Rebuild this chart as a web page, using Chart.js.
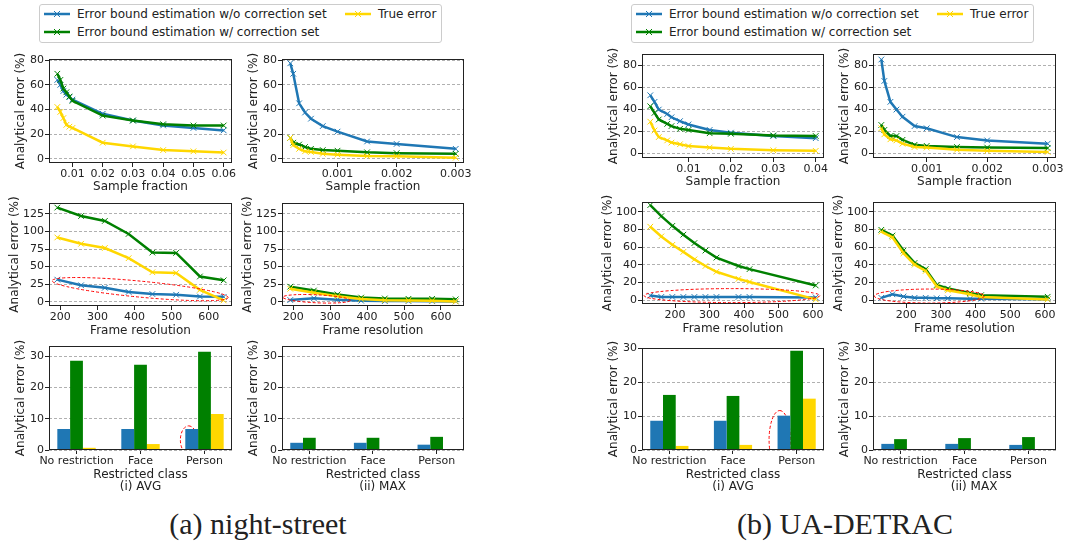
<!DOCTYPE html>
<html>
<head>
<meta charset="utf-8">
<title>Error bound estimation</title>
<script src="https://cdn.jsdelivr.net/npm/chart.js@4/dist/chart.umd.min.js"></script>
<style>
  body { margin: 0; background: #fff; }
  #fig { position: relative; width: 1090px; height: 550px; overflow: hidden; color: #222;
         font-family: 'DejaVu Sans', sans-serif; }
  #fig canvas { position: absolute; }
  .legend { position: absolute; top: 4px; width: 403px; height: 39px; box-sizing: border-box;
            border: 1px solid #ccc; border-radius: 3px; background: #fff; font-size: 12px; }
  .legend .item { position: absolute; height: 14px; line-height: 14px; white-space: nowrap; }
  .legend svg { vertical-align: top; margin-right: 7px; }
  .caption { position: absolute; top: 507px; width: 320px; margin-left: -160px; text-align: center;
             font-family: 'Liberation Serif', 'Times New Roman', serif; font-size: 30px; line-height: 34px; }
</style>
</head>
<body>
<div id="fig">
  <div class="legend" id="legNs" style="left:39px"></div>
  <div class="legend" id="legUd" style="left:631px"></div>
  <div class="caption" style="left:258px">(a) night-street</div>
  <div class="caption" style="left:845px">(b) UA-DETRAC</div>
</div>
<script>
const seriesNames = ['Error bound estimation w/o correction set', 'Error bound estimation w/ correction set', 'True error'];
const colors = ['#1f77b4', '#008000', '#ffd700'];
const classes = ['No restriction', 'Face', 'Person'];

// night-street: sample fraction
const nsFracAvgX = [0.005, 0.006, 0.007, 0.008, 0.009, 0.01, 0.02, 0.03, 0.04, 0.05, 0.06];
const nsFracAvgWo = [64, 60, 55, 52, 50, 48, 36.5, 31, 27, 25, 23];
const nsFracAvgW = [69, 64, 57, 54, 50.5, 47, 35, 31, 28, 27, 27];
const nsFracAvgTrue = [42, 38, 33, 27.5, 26, 25, 13, 10, 7, 6, 5];
const nsFracMaxX = [0.0002, 0.00025, 0.00035, 0.00045, 0.00055, 0.00075, 0.001, 0.0015, 0.002, 0.003];
const nsFracMaxWo = [77.5, 69, 45, 37.5, 32.5, 26.5, 22, 14, 12, 8];
const nsFracMaxW = [17, 13, 11.5, 9.5, 8, 7, 6.5, 5.2, 4.5, 4];
const nsFracMaxTrue = [17, 11, 8, 6, 5.5, 4, 3.3, 2.2, 2, 0.8];

// night-street: frame resolution
const nsResX = [192, 256, 320, 384, 448, 512, 576, 640];
const nsResAvgWo = [31.5, 23.5, 20, 14, 11, 10, 7.5, 7];
const nsResAvgW = [134, 122, 115, 96.5, 70, 69.5, 36, 30.5];
const nsResAvgTrue = [91.5, 82.5, 76.5, 62, 42, 41, 17, 2];
const nsResMaxWo = [2.5, 5, 3, 1.5, 1, 1, 0.8, 0.5];
const nsResMaxW = [21.5, 16, 10.5, 6, 4.7, 4.2, 4.2, 3.5];
const nsResMaxTrue = [18.5, 13, 8, 4, 2.3, 2, 1.5, 0.5];

// night-street: restricted class
const nsClassAvgWo = [6.7, 6.7, 6.7];
const nsClassAvgW = [28.5, 27.2, 31.4];
const nsClassAvgTrue = [0.7, 1.9, 11.5];
const nsClassMaxWo = [2.3, 2.3, 1.7];
const nsClassMaxW = [3.9, 3.9, 4.2];
const nsClassMaxTrue = [0.1, 0.1, 0.1];

// UA-DETRAC: sample fraction
const udFracAvgX = [0.001, 0.002, 0.003, 0.005, 0.006, 0.008, 0.01, 0.015, 0.02, 0.03, 0.04];
const udFracAvgWo = [53, 47, 40, 36, 33, 29.5, 26.5, 21.5, 19, 16, 14];
const udFracAvgW = [43, 37, 31, 27, 25, 22.5, 21.5, 18.5, 18, 16.5, 16];
const udFracAvgTrue = [29, 21, 15, 12, 10, 8.5, 6.8, 5.5, 4.3, 3, 2.5];
const udFracMaxX = [0.00025, 0.0003, 0.0004, 0.0005, 0.0006, 0.0008, 0.001, 0.0015, 0.002, 0.003];
const udFracMaxWo = [85.5, 66, 47, 40, 33.5, 25, 23, 15, 12, 9];
const udFracMaxW = [26, 21.5, 16, 16, 12.5, 8, 7, 6, 5.5, 5];
const udFracMaxTrue = [23, 17.5, 13, 12, 9, 6, 5.5, 3.5, 2.5, 1.5];

// UA-DETRAC: frame resolution
const udResX = [128, 160, 192, 224, 256, 288, 320, 384, 416, 608];
const udResAvgWo = [5, 3.5, 3.5, 3.5, 3.5, 3.5, 3.5, 3.5, 3.5, 3];
const udResAvgW = [107.5, 95, 84, 74, 64.5, 56, 48, 38.5, 35, 16.5];
const udResAvgTrue = [83, 72, 62.5, 54.5, 46, 38.5, 32, 24, 20.5, 0.7];
const udResMaxWo = [2.5, 6.5, 4, 2.5, 2.5, 2, 2, 1.5, 1.5, 0.8];
const udResMaxW = [79.5, 73, 56, 42, 35, 17, 13, 8, 5.5, 3.7];
const udResMaxTrue = [77.5, 71, 53, 40, 33, 15.5, 11, 6.5, 3.5, 0.7];

// UA-DETRAC: restricted class
const udClassAvgWo = [8.6, 8.6, 10.1];
const udClassAvgW = [16.2, 15.9, 29.2];
const udClassAvgTrue = [1.2, 1.5, 15.1];
const udClassMaxWo = [1.8, 1.8, 1.5];
const udClassMaxW = [3.2, 3.5, 3.8];
const udClassMaxTrue = [0.1, 0.1, 0.1];

// tick labels
const nsFracAvgTicks = [0.01, 0.02, 0.03, 0.04, 0.05, 0.06];
const udFracAvgTicks = [0.01, 0.02, 0.03, 0.04];
const fracMaxTicks = [0.001, 0.002, 0.003];
const resTicks = [200, 300, 400, 500, 600];
const classTicks = [0, 1, 2];
const fracYTicks = [0, 20, 40, 60, 80];
const nsResYTicks = [0, 25, 50, 75, 100, 125];
const udResYTicks = [0, 20, 40, 60, 80, 100];
const classYTicks = [0, 10, 20, 30];

Chart.defaults.font.family = "'DejaVu Sans', sans-serif";
Chart.defaults.font.size = 11;
Chart.defaults.color = '#222';

const fig = document.getElementById('fig');

// legends
function buildLegend(el) {
  const spots = [[4, 2], [4, 20], [305, 2]];
  seriesNames.forEach((name, i) => {
    const c = colors[i];
    const d = document.createElement('div');
    d.className = 'item';
    d.style.left = spots[i][0] + 'px';
    d.style.top = spots[i][1] + 'px';
    d.innerHTML = '<svg width="26" height="14"><line x1="0" y1="7" x2="26" y2="7" stroke="' + c +
      '" stroke-width="2.5"/><path d="M10 4L16 10M16 4L10 10" stroke="' + c + '" stroke-width="1"/></svg>' +
      '<span>' + name + '</span>';
    el.appendChild(d);
  });
}
buildLegend(document.getElementById('legNs'));
buildLegend(document.getElementById('legUd'));

// matplotlib-like box around the plot area
const frame = {
  id: 'frame',
  afterDraw(chart) {
    const {ctx, chartArea: a} = chart;
    ctx.save();
    ctx.strokeStyle = '#222';
    ctx.lineWidth = 1;
    ctx.strokeRect(a.left + 0.5, a.top + 0.5, a.width - 1, a.height - 1);
    ctx.restore();
  }
};

// y title is longer than the plot is tall; stop Chart.js squeezing it
const roomyTitle = {
  id: 'roomyTitle',
  beforeDraw(chart) {
    const y = chart.scales.y;
    y.top -= 30;
    y.bottom += 30;
  }
};

// dashed red ellipses, given by the two ends of the long axis (data units)
function ellipses(items) {
  const draw = (chart, list) => {
    const {ctx, chartArea: a, scales: {x, y}} = chart;
    list.forEach(e => {
      const x1 = x.getPixelForValue(e.from[0]), y1 = y.getPixelForValue(e.from[1]);
      const x2 = x.getPixelForValue(e.to[0]), y2 = y.getPixelForValue(e.to[1]);
      ctx.save();
      if (e.behind) {
        ctx.beginPath();
        ctx.rect(a.left, a.top, a.width, a.height);
        ctx.clip();
      }
      ctx.strokeStyle = '#ff0000';
      ctx.lineWidth = 1;
      ctx.setLineDash([3, 2]);
      ctx.beginPath();
      ctx.ellipse((x1 + x2) / 2, (y1 + y2) / 2, Math.hypot(x2 - x1, y2 - y1) / 2, e.minor,
        Math.atan2(y2 - y1, x2 - x1), 0, Math.PI * 2);
      ctx.stroke();
      ctx.restore();
    });
  };
  return {
    id: 'ellipses',
    beforeDatasetsDraw(chart) { draw(chart, items.filter(e => e.behind)); },
    afterDatasetsDraw(chart) { draw(chart, items.filter(e => !e.behind)); }
  };
}

function lineSets(xs, wo, w, tr) {
  return [wo, w, tr].map((ys, i) => ({
    label: seriesNames[i],
    data: xs.map((x, j) => ({x, y: ys[j]})),
    borderColor: colors[i],
    backgroundColor: colors[i],
    borderWidth: 2.5,
    pointStyle: 'crossRot',
    pointRadius: 4,
    pointBorderWidth: 1,
    tension: 0,
    order: 3 - i
  }));
}

function barSets(wo, w, tr) {
  return [wo, w, tr].map((ys, i) => ({
    label: seriesNames[i],
    data: ys.map((y, j) => ({x: classTicks[j], y})),
    backgroundColor: colors[i],
    borderWidth: 0,
    categoryPercentage: 0.6,
    barPercentage: 1
  }));
}

// plot boxes: [left, right] per column, [top, bottom] per row
const cols = {ns: [[49, 232], [282, 464]], ud: [[642, 824], [873, 1056]]};
const rows = {ns: [[59, 163], [203, 306], [346, 450]], ud: [[54, 158], [202, 304], [348, 450]]};
const yAxisW = [35, 41, 35];
const xAxisH = [31, 32, 43];
const PAD_T = 12, PAD_R = 24;

function panel(set, r, c, type, datasets, p, marks) {
  const [L, R] = cols[set][c];
  const [T, B] = rows[set][r];
  const w = R - L + yAxisW[r] + PAD_R;
  const h = B - T + PAD_T + xAxisH[r];
  const cv = document.createElement('canvas');
  cv.width = w; cv.height = h;
  cv.style.left = (L - yAxisW[r]) + 'px';
  cv.style.top = (T - PAD_T) + 'px';
  cv.style.width = w + 'px';
  cv.style.height = h + 'px';
  fig.appendChild(cv);

  new Chart(cv, {
    type,
    data: {datasets},
    options: {
      responsive: false,
      animation: false,
      events: [],
      devicePixelRatio: 1,
      layout: {padding: {top: PAD_T, right: PAD_R, left: 0, bottom: 0}},
      plugins: {legend: {display: false}, tooltip: {enabled: false}},
      scales: {
        x: {
          type: 'linear', min: p.xMin, max: p.xMax, offset: false,
          afterBuildTicks: s => { s.ticks = p.xTicks.map(v => ({value: v})); },
          afterFit: s => { s.height = xAxisH[r]; },
          ticks: {autoSkip: false, maxRotation: 0, padding: 1, callback: p.xLabel || (v => String(v))},
          grid: {offset: false, drawOnChartArea: false, tickLength: 4, tickColor: '#222', color: '#222'},
          border: {display: false},
          title: {display: true, text: p.xTitle, padding: 0,
                  font: {size: 12, lineHeight: r === 2 ? 0.98 : 1.2}}
        },
        y: {
          min: p.yMin, max: p.yMax,
          afterBuildTicks: s => { s.ticks = p.yTicks.map(v => ({value: v})); },
          afterFit: s => { s.width = yAxisW[r]; },
          ticks: {autoSkip: false, padding: 1},
          grid: {color: '#b0b0b0', lineWidth: 1, tickLength: 4, tickColor: '#222', tickWidth: 1, tickBorderDash: []},
          border: {display: false, dash: [3, 2]},
          title: {display: true, text: 'Analytical error (%)', padding: 0, font: {size: 12}}
        }
      }
    },
    plugins: [frame, roomyTitle, ellipses(marks || [])]
  });
}

const classLabel = v => classes[v];

// night-street
panel('ns', 0, 0, 'line', lineSets(nsFracAvgX, nsFracAvgWo, nsFracAvgW, nsFracAvgTrue),
  {xMin: 0.00225, xMax: 0.06275, xTicks: nsFracAvgTicks, xTitle: 'Sample fraction',
   yMin: -3.5, yMax: 81, yTicks: fracYTicks});
panel('ns', 0, 1, 'line', lineSets(nsFracMaxX, nsFracMaxWo, nsFracMaxW, nsFracMaxTrue),
  {xMin: 0.00006, xMax: 0.00314, xTicks: fracMaxTicks, xTitle: 'Sample fraction',
   yMin: -3.5, yMax: 81, yTicks: fracYTicks});
panel('ns', 1, 0, 'line', lineSets(nsResX, nsResAvgWo, nsResAvgW, nsResAvgTrue),
  {xMin: 169.6, xMax: 662.4, xTicks: resTicks, xTitle: 'Frame resolution',
   yMin: -6, yMax: 140.5, yTicks: nsResYTicks},
  [{from: [178, 30], to: [652, 6], minor: 8}]);
panel('ns', 1, 1, 'line', lineSets(nsResX, nsResMaxWo, nsResMaxW, nsResMaxTrue),
  {xMin: 169.6, xMax: 662.4, xTicks: resTicks, xTitle: 'Frame resolution',
   yMin: -6, yMax: 140.5, yTicks: nsResYTicks},
  [{from: [172, 6.5], to: [354, 2], minor: 4}]);
panel('ns', 2, 0, 'bar', barSets(nsClassAvgWo, nsClassAvgW, nsClassAvgTrue),
  {xMin: -0.43, xMax: 2.43, xTicks: classTicks, xLabel: classLabel, xTitle: ['Restricted class', '(i) AVG'],
   yMin: 0, yMax: 33.2, yTicks: classYTicks},
  [{from: [1.753, -1.3], to: [1.753, 7.7], minor: 8.3, behind: true}]);
panel('ns', 2, 1, 'bar', barSets(nsClassMaxWo, nsClassMaxW, nsClassMaxTrue),
  {xMin: -0.43, xMax: 2.43, xTicks: classTicks, xLabel: classLabel, xTitle: ['Restricted class', '     (ii) MAX'],
   yMin: 0, yMax: 33.2, yTicks: classYTicks});

// UA-DETRAC
panel('ud', 0, 0, 'line', lineSets(udFracAvgX, udFracAvgWo, udFracAvgW, udFracAvgTrue),
  {xMin: -0.00095, xMax: 0.04195, xTicks: udFracAvgTicks, xTitle: 'Sample fraction',
   yMin: -4, yMax: 90.5, yTicks: fracYTicks});
panel('ud', 0, 1, 'line', lineSets(udFracMaxX, udFracMaxWo, udFracMaxW, udFracMaxTrue),
  {xMin: 0.0001125, xMax: 0.0031375, xTicks: fracMaxTicks, xTitle: 'Sample fraction',
   yMin: -4, yMax: 90.5, yTicks: fracYTicks});
panel('ud', 1, 0, 'line', lineSets(udResX, udResAvgWo, udResAvgW, udResAvgTrue),
  {xMin: 104, xMax: 632, xTicks: resTicks, xTitle: 'Frame resolution',
   yMin: -4.5, yMax: 111, yTicks: udResYTicks},
  [{from: [110, 5], to: [620, 5], minor: 7}]);
panel('ud', 1, 1, 'line', lineSets(udResX, udResMaxWo, udResMaxW, udResMaxTrue),
  {xMin: 104, xMax: 632, xTicks: resTicks, xTitle: 'Frame resolution',
   yMin: -4.5, yMax: 111, yTicks: udResYTicks},
  [{from: [108, 4.5], to: [425, 4.5], minor: 7}]);
panel('ud', 2, 0, 'bar', barSets(udClassAvgWo, udClassAvgW, udClassAvgTrue),
  {xMin: -0.43, xMax: 2.43, xTicks: classTicks, xLabel: classLabel, xTitle: ['Restricted class', '(i) AVG'],
   yMin: 0, yMax: 30, yTicks: classYTicks},
  [{from: [1.735, -5.6], to: [1.735, 11.6], minor: 10.7, behind: true}]);
panel('ud', 2, 1, 'bar', barSets(udClassMaxWo, udClassMaxW, udClassMaxTrue),
  {xMin: -0.43, xMax: 2.43, xTicks: classTicks, xLabel: classLabel, xTitle: ['Restricted class', '     (ii) MAX'],
   yMin: 0, yMax: 30, yTicks: classYTicks});
</script>
</body>
</html>
